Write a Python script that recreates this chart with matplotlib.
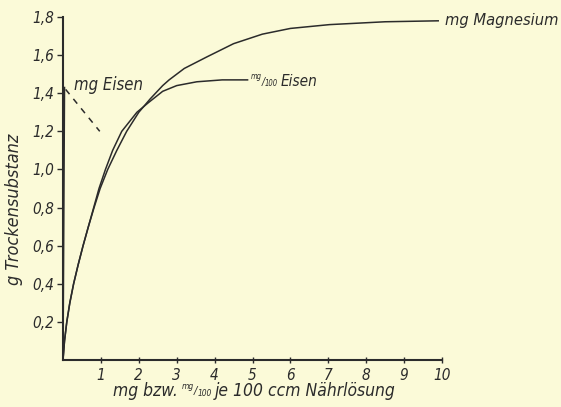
import matplotlib
matplotlib.use('Agg')
import matplotlib.pyplot as plt

# Werte
mg_x = [0, 0.04, 0.1, 0.18, 0.28, 0.4, 0.53, 0.67, 0.82, 0.98, 1.18, 1.42, 1.68, 2.0, 2.3, 2.63, 2.8, 3.2, 3.79, 4.5, 5.26, 6.0, 7.03, 8.5, 9.9]
mg_y = [0, 0.1, 0.2, 0.3, 0.4, 0.5, 0.6, 0.7, 0.8, 0.9, 1.0, 1.1, 1.2, 1.3, 1.37, 1.44, 1.47, 1.53, 1.59, 1.66, 1.71, 1.74, 1.76, 1.775, 1.78]

fe100_x = [0, 0.04, 0.1, 0.18, 0.28, 0.4, 0.53, 0.67, 0.81, 0.95, 1.12, 1.31, 1.55, 1.95, 2.25, 2.63, 3.0, 3.53, 4.2, 4.87]
fe100_y = [0, 0.1, 0.2, 0.3, 0.4, 0.5, 0.6, 0.7, 0.8, 0.9, 1.0, 1.1, 1.2, 1.3, 1.35, 1.41, 1.44, 1.46, 1.47, 1.47]

fe_x = [0, 0.04]
fe_y = [0, 1.43]
fe_dash_x = [0.07, 0.97]
fe_dash_y = [1.42, 1.2]

xticks = [1, 2, 3, 4, 5, 6, 7, 8, 9, 10]
yticks = [0.2, 0.4, 0.6, 0.8, 1.0, 1.2, 1.4, 1.6, 1.8]

bg = '#fbfad8'
ink = '#2b2b2b'
plt.rcParams['font.family'] = ['DejaVu Sans']
plt.rcParams['font.stretch'] = 'condensed'
plt.rcParams['font.style'] = 'italic'

fig = plt.figure(figsize=(5.61, 4.07), dpi=100, facecolor=bg)
ax = fig.add_axes([63/561, 1-360/407, (442-63)/561, (360-17)/407])
ax.set_facecolor(bg)

ax.plot(mg_x, mg_y, color=ink, lw=1.1)
ax.plot(fe100_x, fe100_y, color=ink, lw=1.1)
ax.plot(fe_x, fe_y, color=ink, lw=1.1)
ax.plot(fe_dash_x, fe_dash_y, color=ink, lw=1.1, ls=(0, (4, 4)))

ax.set_xlim(0, 10)
ax.set_ylim(0, 1.8)
ax.set_xticks(xticks)
ax.set_xticklabels([str(t) for t in xticks])
ax.set_yticks(yticks)
ax.set_yticklabels([f'{t:.1f}'.replace('.', ',') for t in yticks])
ax.tick_params(axis='x', direction='inout', length=5, width=1, colors=ink, labelsize=11, pad=3)
ax.tick_params(axis='y', direction='out', length=4, width=1, colors=ink, labelsize=11, pad=2)
for s in ['top', 'right']:
    ax.spines[s].set_visible(False)
for s in ['left', 'bottom']:
    ax.spines[s].set_color(ink)
    ax.spines[s].set_linewidth(1.5)

ax.set_ylabel('g Trockensubstanz', fontsize=13, color=ink)
ax.yaxis.set_label_coords(-40/379, (360-209)/343)

ax.text(0.3, 1.445, 'mg Eisen', fontsize=12, color=ink, va='center')
ax.text(10.07, 1.78, 'mg Magnesium', fontsize=11.8, color=ink, va='center')

# mg/100 Eisen, Stücke auf gemeinsamer Grundlinie
base = 1.44
t = ax.text(4.95, base + 0.035, 'mg', fontsize=5.5, color=ink, va='baseline')
t = ax.annotate('/', xy=(1, base + 0.005), xycoords=(t, 'data'), fontsize=7.5, color=ink, va='baseline')
t = ax.annotate('100', xy=(1, base), xycoords=(t, 'data'), fontsize=5.5, color=ink, va='baseline')
ax.annotate('Eisen', xy=(1, base), xycoords=(t, 'data'), xytext=(2, 0), textcoords='offset points',
            fontsize=11, color=ink, va='baseline')

# x-Achsenbeschriftung
yb = 1 - 396/407
t = fig.text(113/561, yb, 'mg bzw.', fontsize=12.5, color=ink, va='baseline')
t = plt.annotate('mg', xy=(182/561, yb + 7/407), xycoords='figure fraction', fontsize=6,
                 color=ink, va='baseline', annotation_clip=False)
t = plt.annotate('/', xy=(1, yb + 2/407), xycoords=(t, 'figure fraction'), fontsize=8,
                 color=ink, va='baseline', annotation_clip=False)
t = plt.annotate('100', xy=(1, yb), xycoords=(t, 'figure fraction'), fontsize=6,
                 color=ink, va='baseline', annotation_clip=False)
plt.annotate('je 100 ccm Nährlösung', xy=(1, yb), xycoords=(t, 'figure fraction'),
             xytext=(2, 0), textcoords='offset points', fontsize=12.5, color=ink,
             va='baseline', annotation_clip=False)

fig.savefig('out.png', dpi=100, facecolor=bg)
